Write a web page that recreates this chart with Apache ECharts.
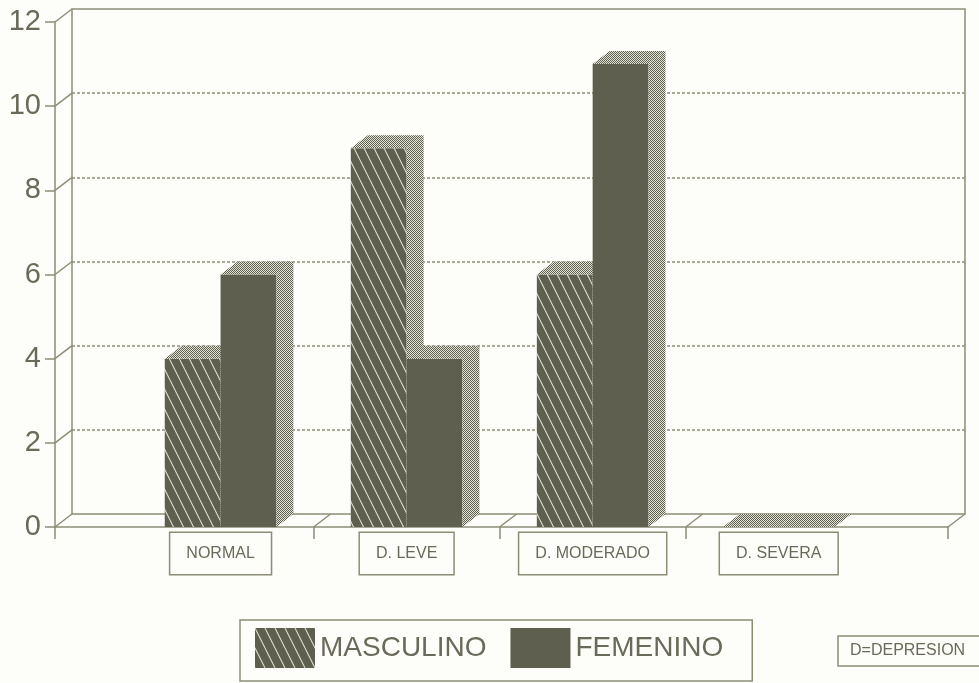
<!DOCTYPE html>
<html>
<head>
<meta charset="utf-8">
<script src="https://cdn.jsdelivr.net/npm/echarts@6/dist/echarts.min.js"></script>
<style>
  html, body { margin: 0; padding: 0; background: #fdfdf9; }
  #chart { width: 979px; height: 683px; }
</style>
</head>
<body>
<div id="chart"></div>
<script>
// ---- data ----
const categories = ['NORMAL', 'D. LEVE', 'D. MODERADO', 'D. SEVERA'];
const seriesNames = ['MASCULINO', 'FEMENINO'];
const masculino = [4, 9, 6, 0];
const femenino = [6, 4, 11, 0];
const yTicks = [0, 2, 4, 6, 8, 10, 12];
const xRange = [-0.89, 3.91];            // category slots with side padding
const xDividers = [0.5, 1.5, 2.5];       // boundaries between categories

// ---- style ----
const LINE = '#8d8d77';
const TEXT = '#6a6a5a';
const DARK = '#5e5f4f';
const LIGHT = '#e4e4d8';
const BG = '#fdfdf9';
const DEPTH = [17, -13];                 // 3D offset of the back wall (px)
const BAR_W = 0.3;                        // bar width in category units
const FONT = '"Liberation Sans", Arial, sans-serif';

function makeHatch() {
  const c = document.createElement('canvas');
  c.width = 10; c.height = 20;
  const g = c.getContext('2d');
  g.fillStyle = DARK; g.fillRect(0, 0, 10, 20);
  g.strokeStyle = 'rgba(240,240,228,0.85)';
  g.lineWidth = 1.1;
  g.beginPath();
  for (let k = -1; k <= 1; k++) {
    g.moveTo(k * 10, 0);
    g.lineTo(k * 10 + 10, 20);
  }
  g.stroke();
  return { image: c, repeat: 'repeat' };
}
function makeStipple() {
  const c = document.createElement('canvas');
  c.width = 2; c.height = 2;
  const g = c.getContext('2d');
  g.fillStyle = DARK; g.fillRect(0, 0, 2, 2);
  g.fillStyle = LIGHT; g.fillRect(1, 0, 1, 1); g.fillRect(0, 1, 1, 1);
  return { image: c, repeat: 'repeat' };
}
const hatch = makeHatch();
const stipple = makeStipple();
const faceFill = [hatch, DARK];

// 3D box: front face, top face and right side face
function barRenderer(sIdx) {
  return function (params, api) {
    const i = api.value(0), v = api.value(1);
    const x0 = sIdx === 0 ? i - BAR_W : i;
    const x1 = x0 + BAR_W;
    const ftl = api.coord([x0, v]);
    const ftr = api.coord([x1, v]);
    const fbr = api.coord([x1, 0]);
    const [dx, dy] = DEPTH;
    const children = [];
    if (v > 0) {
      children.push({
        type: 'rect',
        shape: { x: ftl[0], y: ftl[1], width: ftr[0] - ftl[0], height: fbr[1] - ftr[1] },
        style: { fill: faceFill[sIdx] }
      });
      children.push({
        type: 'polygon',
        shape: { points: [ftr, [ftr[0] + dx, ftr[1] + dy], [fbr[0] + dx, fbr[1] + dy], fbr] },
        style: { fill: stipple }
      });
    }
    children.push({
      type: 'polygon',
      shape: { points: [ftl, ftr, [ftr[0] + dx, ftr[1] + dy], [ftl[0] + dx, ftl[1] + dy]] },
      style: { fill: stipple }
    });
    return { type: 'group', children };
  };
}

// slanted edges joining the front axes to the back wall
function connectorRenderer(params, api) {
  const p = api.coord([api.value(0), api.value(1)]);
  return {
    type: 'line',
    shape: { x1: p[0], y1: p[1], x2: p[0] + DEPTH[0], y2: p[1] + DEPTH[1] },
    style: { stroke: LINE, lineWidth: 1.5 }
  };
}
const connectorData = yTicks.map(v => [xRange[0], v])
  .concat(xDividers.map(x => [x, 0]))
  .concat([[xRange[1], 0]]);

const chart = echarts.init(document.getElementById('chart'), null, { renderer: 'canvas' });
chart.setOption({
  backgroundColor: BG,
  animation: false,
  textStyle: { fontFamily: FONT },
  title: {
    text: 'D=DEPRESION',
    left: 838, top: 636,
    padding: [7, 40, 7, 12],
    borderColor: LINE, borderWidth: 1.5,
    textStyle: { fontSize: 16, fontWeight: 'normal', color: TEXT, fontFamily: FONT }
  },
  legend: {
    left: 240, top: 620,
    itemWidth: 60, itemHeight: 40, itemGap: 24,
    padding: [8, 29, 13, 15],
    borderColor: LINE, borderWidth: 1.5,
    icon: 'rect',
    selectedMode: false,
    textStyle: { fontSize: 28, color: TEXT, fontFamily: FONT },
    data: [
      { name: seriesNames[0], itemStyle: { color: hatch } },
      { name: seriesNames[1], itemStyle: { color: DARK } }
    ]
  },
  grid: [
    { left: 55, top: 22, width: 893, height: 505 },
    { left: 72, top: 9, width: 893, height: 505, show: true, borderColor: LINE, borderWidth: 1.5, backgroundColor: 'transparent' }
  ],
  xAxis: [
    {
      type: 'value', gridIndex: 0, min: xRange[0], max: xRange[1],
      axisLine: { show: true, onZero: false, lineStyle: { color: LINE, width: 1.5 } },
      axisTick: { show: true, length: 12, customValues: [xRange[0]].concat(xDividers, [xRange[1]]), lineStyle: { color: LINE, width: 1.5 } },
      splitLine: { show: false },
      axisLabel: {
        customValues: categories.map((c, i) => i),
        formatter: v => categories[Math.round(v)],
        margin: 6,
        fontSize: 16,
        color: TEXT,
        fontFamily: FONT,
        borderColor: LINE, borderWidth: 1.5,
        backgroundColor: BG,
        padding: [13, 16, 12, 16]
      }
    },
    { type: 'value', gridIndex: 1, min: 0, max: 1, show: false }
  ],
  yAxis: [
    {
      type: 'value', gridIndex: 0, min: 0, max: 12, interval: 2,
      axisLine: { show: true, onZero: false, lineStyle: { color: LINE, width: 1.5 } },
      axisTick: { show: true, length: 10, lineStyle: { color: LINE, width: 1.5 } },
      splitLine: { show: false },
      axisLabel: { fontSize: 29, color: TEXT, margin: 14, fontFamily: FONT }
    },
    {
      type: 'value', gridIndex: 1, min: 0, max: 12, interval: 2,
      axisLine: { show: false }, axisTick: { show: false }, axisLabel: { show: false },
      splitLine: { show: true, showMinLine: false, showMaxLine: false, lineStyle: { color: LINE, width: 1.5, type: [3, 2] } }
    }
  ],
  series: [
    {
      type: 'custom', name: 'edges', xAxisIndex: 0, yAxisIndex: 0, z: 1,
      silent: true, renderItem: connectorRenderer,
      encode: { x: 0, y: 1 }, data: connectorData
    },
    {
      type: 'custom', name: seriesNames[0], xAxisIndex: 0, yAxisIndex: 0, z: 3,
      itemStyle: { color: hatch },
      renderItem: barRenderer(0), encode: { x: 0, y: 1 },
      data: masculino.map((v, i) => [i, v])
    },
    {
      type: 'custom', name: seriesNames[1], xAxisIndex: 0, yAxisIndex: 0, z: 4,
      itemStyle: { color: DARK },
      renderItem: barRenderer(1), encode: { x: 0, y: 1 },
      data: femenino.map((v, i) => [i, v])
    }
  ]
});
</script>
</body>
</html>
